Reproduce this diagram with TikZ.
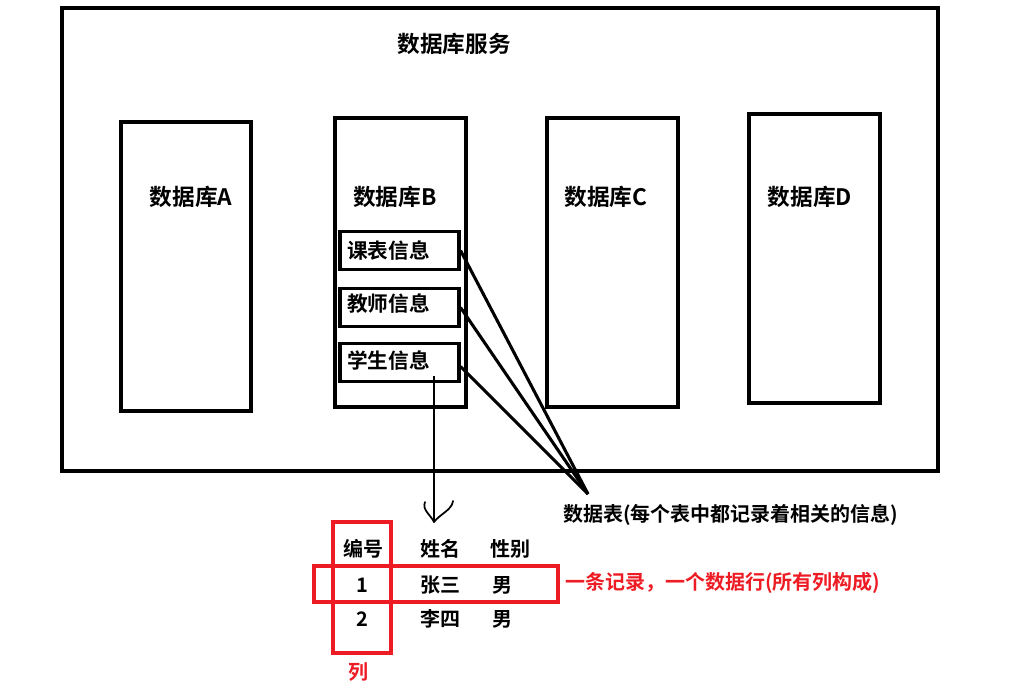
\documentclass[tikz,border=0pt]{standalone}
\usepackage{fontspec}
\setmainfont{Noto Sans CJK SC Bold}
\begin{document}
\begin{tikzpicture}[x=0.75pt,y=-0.75pt,
  box/.style={draw=black,line width=2.3pt,inner sep=0pt},
  sub/.style={draw=black,line width=2.3pt,minimum width=89.25pt,minimum height=28.5pt,inner sep=0pt},
  redbox/.style={draw=redc,line width=2.3pt,inner sep=0pt},
  lbl/.style={font=\fontsize{17}{20}\selectfont,inner sep=0pt},
  sublbl/.style={font=\fontsize{15.5}{18}\selectfont,inner sep=0pt,anchor=west},
  cell/.style={font=\fontsize{15}{18}\selectfont,inner sep=0pt},
  conn/.style={line width=2.3pt},
]
\definecolor{redc}{RGB}{237,28,36}
\useasboundingbox (0,0) rectangle (1025,690);
% outer service box
\node[box,minimum width=657pt,minimum height=347.25pt] (svc) at (500,239.5) {};
\node[lbl] (svctitle) at (454,44) {数据库服务};
% databases
\node[box,minimum width=97.5pt,minimum height=216.75pt] (dbA) at (186,266.5) {};
\node[box,minimum width=98.25pt,minimum height=216.75pt] (dbB) at (400.5,262.5) {};
\node[box,minimum width=98.25pt,minimum height=216.75pt] (dbC) at (612.5,262.5) {};
\node[box,minimum width=98.25pt,minimum height=216.75pt] (dbD) at (814.5,258.5) {};
\node[lbl] (lA) at (191,197) {数据库A};
\node[lbl] (lB) at (395,197) {数据库B};
\node[lbl] (lC) at (606,197) {数据库C};
\node[lbl] (lD) at (810,197) {数据库D};
% tables in B
\node[sub] (t1) at (399.5,250.5) {};
\node[sub] (t2) at (399.5,307.5) {};
\node[sub] (t3) at (399.5,362.5) {};
\node[sublbl] (t1l) at (347,251) {课表信息};
\node[sublbl] (t2l) at (347,304) {教师信息};
\node[sublbl] (t3l) at (347,361) {学生信息};
% connectors to label
\coordinate (conv) at (588,494);
\draw[conn] (t1.east) -- (conv);
\draw[conn] (t2.east) -- (conv);
\draw[conn] ([yshift=-3pt]t3.east) -- (conv);
\node[cell,anchor=west] (tbl) at (563,515) {数据表(每个表中都记录着相关的信息)};
% arrow down
\coordinate (astart) at (434,376);
\coordinate (atip) at (434,522);
\draw[line width=1.3pt] (astart) -- (atip);
\draw[line width=1.3pt,line cap=round] (atip) .. controls (430,514) and (422,510) .. (425,502);
\draw[line width=1.3pt,line cap=round] (atip) .. controls (440,514) and (452,510) .. (453,501);
% table contents
\node[cell] (h1) at (363,549) {编号};
\node[cell] (h2) at (440,549) {姓名};
\node[cell] (h3) at (510,549) {性别};
\node[cell] (r11) at (362,585) {1};
\node[cell] (r12) at (440,585) {张三};
\node[cell] (r13) at (502,585) {男};
\node[cell] (r21) at (362,619) {2};
\node[cell] (r22) at (440,619) {李四};
\node[cell] (r23) at (502,619) {男};
% red boxes
\node[redbox,minimum width=43.5pt,minimum height=98.25pt] (colbox) at (362,587.5) {};
\node[redbox,minimum width=183pt,minimum height=27pt] (rowbox) at (436,584) {};
\node[cell,text=redc] (collbl) at (358,672) {列};
\node[cell,text=redc,anchor=west] (rowlbl) at (565,583) {一条记录，一个数据行(所有列构成)};
\end{tikzpicture}
\end{document}
